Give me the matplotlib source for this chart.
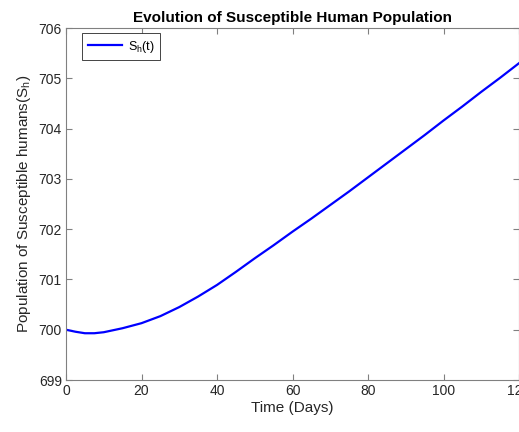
import numpy as np
import matplotlib
matplotlib.use('Agg')
import matplotlib.pyplot as plt

# Susceptible human population
t_days = [0, 2.5, 5, 7.5, 10, 15, 20, 25, 30, 35, 40, 45, 50, 55, 60,
          65, 70, 75, 80, 85, 90, 95, 100, 105, 110, 115, 120]
s_h = [700.00, 699.96, 699.93, 699.93, 699.95, 700.03, 700.13, 700.27,
       700.45, 700.66, 700.89, 701.15, 701.42, 701.68, 701.95, 702.21,
       702.48, 702.75, 703.03, 703.31, 703.59, 703.87, 704.16, 704.44,
       704.73, 705.01, 705.30]

x_ticks = [0, 20, 40, 60, 80, 100, 120]
y_ticks = [699, 700, 701, 702, 703, 704, 705, 706]

plt.rcParams['font.family'] = ['Liberation Sans', 'DejaVu Sans']
plt.rcParams['mathtext.fontset'] = 'custom'
plt.rcParams['mathtext.rm'] = 'Liberation Sans'
plt.rcParams['mathtext.it'] = 'Liberation Sans'

fig = plt.figure(figsize=(5.19, 4.32), dpi=100)
ax = fig.add_axes([66 / 519, 1 - 380 / 432, 453 / 519, 352 / 432])

ax.plot(t_days, s_h, color='#0000ff', linewidth=1.6, label=r'S$_\mathrm{h}$(t)')

ax.set_xlim(0, 120)
ax.set_ylim(699, 706)
ax.set_xticks(x_ticks)
ax.set_yticks(y_ticks)

axis_grey = '#262626'
for side in ax.spines.values():
    side.set_color('#808080')
    side.set_linewidth(0.8)
ax.tick_params(direction='in', top=True, right=True, length=4, width=0.8,
               color='#808080', labelsize=10, labelcolor=axis_grey, pad=3)

ax.set_xlabel('Time (Days)', fontsize=11, color=axis_grey, labelpad=2)
ax.set_ylabel(r'Population of Susceptible humans(S$_\mathrm{h}$)', fontsize=11,
              color=axis_grey, labelpad=4)
ax.set_title('Evolution of Susceptible Human Population', fontsize=11,
             fontweight='bold', pad=4)

leg = ax.legend(loc='upper left', fontsize=9, fancybox=False, framealpha=1,
                edgecolor='#262626', handlelength=2.7, handletextpad=0.5,
                borderpad=0.45, borderaxespad=0.4,
                bbox_to_anchor=(0.025, 1.0))
leg.get_frame().set_linewidth(0.6)

fig.savefig('out.png', dpi=100)
